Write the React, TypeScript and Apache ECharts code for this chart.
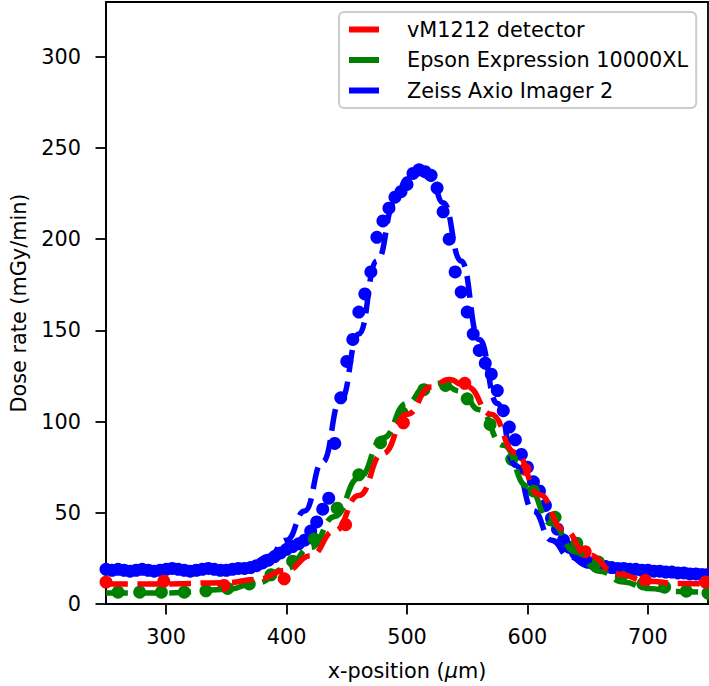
import React, { useEffect, useRef } from 'react';
import * as echarts from 'echarts';

const FONT = 'DejaVu Sans';
const FS = 20.8;

const xTicks = [300, 400, 500, 600, 700];
const yTicks = [0, 50, 100, 150, 200, 250, 300];

const seriesNames = ['vM1212 detector', 'Epson Expression 10000XL', 'Zeiss Axio Imager 2'];

// Zeiss Axio Imager 2 – measured points
const blueX = [250, 255, 260, 265, 270, 275, 280, 285, 290, 295, 300, 305, 310, 315, 320, 325, 330, 335, 340, 345, 350, 355, 360, 365, 370, 375, 380, 385, 390, 395, 400, 405, 410, 415, 420, 425, 430, 435, 440, 445, 450, 455, 460, 465, 470, 475, 480, 485, 490, 495, 500, 505, 510, 515, 520, 525, 530, 535, 540, 545, 550, 555, 560, 565, 570, 575, 580, 585, 590, 595, 600, 605, 610, 615, 620, 625, 630, 635, 640, 645, 650, 655, 660, 665, 670, 675, 680, 685, 690, 695, 700, 705, 710, 715, 720, 725, 730, 735, 740, 745, 750];
const blueY = [19, 18.5, 19, 18.5, 18, 18.5, 19, 18.5, 18, 18.5, 19, 19.5, 19, 18.5, 18, 18.5, 19, 19.5, 19, 18.5, 18.5, 19, 19.5, 19.5, 20, 21, 22.5, 24, 26, 28, 30, 31.5, 33, 35, 40, 45, 52, 58, 88, 113, 133, 145, 160, 170, 182, 201, 210, 217, 223, 226, 230, 236, 238, 237, 235, 228, 215, 200, 182, 171, 160, 148, 139, 132, 126, 117, 106, 97, 90, 82, 75, 67, 62, 54, 47, 41, 35, 31, 28, 25, 23, 22, 21, 20.5, 20, 19.5, 19.5, 19, 19, 18.5, 18.5, 18, 18, 17.5, 17.5, 17, 17, 16.5, 16.5, 16, 16];

// Epson Expression 10000XL – measured points
const greenX = [260, 278, 296, 315, 333, 351, 369, 387, 405, 423, 442, 460, 478, 496, 514, 532, 550, 569, 587, 605, 623, 641, 659, 678, 696, 714, 732, 750];
const greenY = [6.5, 6.5, 6.5, 6.5, 7.2, 8.5, 11, 16, 23.5, 35.6, 52.5, 70.8, 88.4, 104.7, 117.5, 119.8, 112.5, 98.4, 79.3, 62, 47.5, 33.3, 23, 15, 11, 9.3, 7, 6];

// vM1212 detector – measured points
const redX = [250, 298, 348, 398, 449, 497, 548, 598, 648, 698, 748];
const redY = [12, 12.5, 10.2, 13.8, 43.5, 99.3, 121, 73.8, 28.7, 12.9, 12];

// fitted curves
const redFitX = [250, 300, 350, 375, 400, 420, 440, 460, 480, 500, 520, 535, 550, 570, 590, 610, 630, 650, 675, 700, 725, 750];
const redFitY = [11, 11, 11.7, 13.5, 18.5, 26.5, 40, 59.5, 82.5, 104, 119, 123, 119, 104, 83, 60, 41, 27, 16.5, 12.5, 11.3, 11];

const greenFitX = [250, 300, 350, 375, 400, 420, 440, 460, 480, 500, 515, 528, 545, 560, 580, 600, 620, 640, 660, 680, 700, 725, 750];
const greenFitY = [6, 6, 8, 11.5, 19.5, 31, 48, 69, 91, 110, 118.5, 121, 116.5, 106.5, 87, 64.5, 44, 28.5, 18, 12, 8.5, 6.8, 6.2];

const blueFitX = [250, 300, 350, 370, 385, 400, 415, 430, 445, 460, 475, 490, 500, 510, 520, 530, 545, 560, 575, 590, 605, 620, 635, 650, 670, 700, 750];
const blueFitY = [18, 18, 18.5, 21, 26, 35, 51, 78, 112, 148, 188, 220, 233, 238, 233, 220, 188, 145, 110, 76, 51, 35, 26, 21, 19, 18, 18];

const RED = '#ff0000';
const GREEN = '#008000';
const BLUE = '#0000ff';

// legend handle: a 30px bar followed by empty space (so the label starts further right)
const LEGEND_ICON = 'path://M0,0L30,0L30,6L0,6ZM53,0';

const pair = (xs: number[], ys: number[]) => xs.map((x, i) => [x, ys[i]]);

const scatter = (name: string, xs: number[], ys: number[], color: string) => ({
  type: 'scatter',
  name,
  data: pair(xs, ys),
  symbol: 'circle',
  symbolSize: 13,
  itemStyle: { color, opacity: 1, borderWidth: 0 },
  clip: true,
});

const fit = (name: string, xs: number[], ys: number[], color: string) => ({
  type: 'line',
  name,
  data: pair(xs, ys),
  showSymbol: false,
  symbol: 'none',
  smooth: true,
  smoothMonotone: 'x',
  lineStyle: { color, width: 5.5, type: [22, 9.5] },
  itemStyle: { color },
  clip: true,
});

export default function App() {
  const ref = useRef<HTMLDivElement>(null);
  useEffect(() => {
    const chart = echarts.init(ref.current!, null, { renderer: 'svg' });
    const option: any = {
      animation: false,
      backgroundColor: '#ffffff',
      textStyle: { fontFamily: FONT },
      grid: {
        left: 98,
        right: 1,
        top: 2,
        bottom: 79,
        show: true,
        borderColor: '#000',
        borderWidth: 1.8,
        backgroundColor: 'transparent',
      },
      legend: {
        data: seriesNames.map((n) => ({ name: n, icon: LEGEND_ICON })),
        orient: 'vertical',
        left: 339,
        top: 12,
        padding: [7, 8, 7, 10],
        itemGap: 9.5,
        itemWidth: 53,
        itemHeight: 6,
        backgroundColor: 'rgba(255,255,255,0.8)',
        borderColor: '#cccccc',
        borderWidth: 2,
        borderRadius: 5,
        selectedMode: false,
        textStyle: { fontSize: FS, color: '#000', fontFamily: FONT },
      },
      xAxis: {
        type: 'value',
        min: 250,
        max: 750,
        name: 'x-position ({i|μ}m)',
        nameLocation: 'middle',
        nameGap: 56,
        nameTextStyle: {
          fontSize: FS,
          color: '#000',
          fontFamily: FONT,
          rich: { i: { fontStyle: 'italic', fontSize: FS, color: '#000', fontFamily: FONT } },
        },
        axisLine: { show: true, onZero: false, lineStyle: { color: '#000', width: 1.8 } },
        axisTick: { show: true, inside: false, length: 10.5, lineStyle: { color: '#000', width: 1.8 }, customValues: xTicks },
        axisLabel: { customValues: xTicks, fontSize: FS, color: '#000', margin: 22, fontFamily: FONT },
        splitLine: { show: false },
      },
      yAxis: {
        type: 'value',
        min: 0,
        max: 330,
        name: 'Dose rate (mGy/min)',
        nameLocation: 'middle',
        nameGap: 77,
        nameTextStyle: { fontSize: FS, color: '#000', fontFamily: FONT },
        axisLine: { show: true, lineStyle: { color: '#000', width: 1.8 } },
        axisTick: { show: true, inside: false, length: 10.5, lineStyle: { color: '#000', width: 1.8 }, customValues: yTicks },
        axisLabel: { customValues: yTicks, fontSize: FS, color: '#000', margin: 25, fontFamily: FONT },
        splitLine: { show: false },
      },
      series: [
        scatter(seriesNames[2], blueX, blueY, BLUE),
        fit('Zeiss fit', blueFitX, blueFitY, BLUE),
        scatter(seriesNames[1], greenX, greenY, GREEN),
        fit('Epson fit', greenFitX, greenFitY, GREEN),
        scatter(seriesNames[0], redX, redY, RED),
        fit('vM1212 fit', redFitX, redFitY, RED),
      ],
    };
    chart.setOption(option);
    return () => chart.dispose();
  }, []);
  return <div ref={ref} style={{ position: 'absolute', left: 0, top: 0, width: 709, height: 686 }} />;
}
